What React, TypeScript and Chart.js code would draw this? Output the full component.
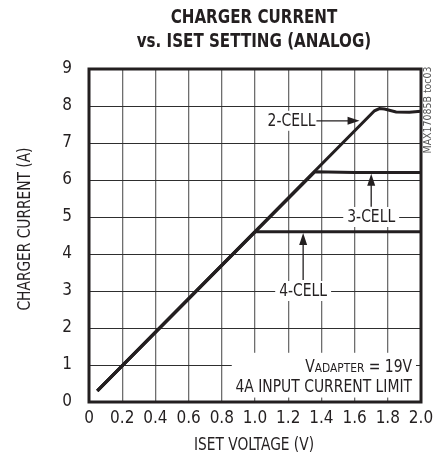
import React, { useEffect, useRef } from 'react';
import { Chart, registerables } from 'chart.js';

Chart.register(...registerables);

const FONT = "'Liberation Sans Narrow', 'DejaVu Sans Condensed', 'Liberation Sans', sans-serif";
const TXT = '#231f20';

// Series (ISET voltage in V, charger current in A)
const cell4X = [0.05, 1.0, 1.5, 2.0];
const cell4Y = [0.3, 4.6, 4.6, 4.6];
const cell3X = [0.05, 1.36, 1.6, 2.0];
const cell3Y = [0.3, 6.22, 6.2, 6.2];
const cell2X = [0.05, 1.72, 1.75, 1.78, 1.85, 1.93, 2.0];
const cell2Y = [0.3, 7.87, 7.93, 7.92, 7.84, 7.83, 7.86];

const xTickValues = [0, 0.2, 0.4, 0.6, 0.8, 1.0, 1.2, 1.4, 1.6, 1.8, 2.0];
const yTickValues = [0, 1, 2, 3, 4, 5, 6, 7, 8, 9];

const titleLines = ['CHARGER CURRENT', 'vs. ISET SETTING (ANALOG)'];
const xTitle = 'ISET VOLTAGE (V)';
const yTitle = 'CHARGER CURRENT (A)';
const watermark = 'MAX17085B toc03';

function pts(xs: number[], ys: number[]) {
  return xs.map((x, i) => ({ x, y: ys[i] }));
}

// text drawn horizontally condensed (the reference uses a condensed face)
function condText(ctx: CanvasRenderingContext2D, text: string, x: number, y: number, font: string, sx: number, align: CanvasTextAlign, baseline: CanvasTextBaseline, rot = 0) {
  ctx.save();
  ctx.translate(x, y);
  if (rot) ctx.rotate(rot);
  ctx.scale(sx, 1);
  ctx.font = font;
  ctx.textAlign = align;
  ctx.textBaseline = baseline;
  ctx.fillText(text, 0, 0);
  ctx.restore();
}

function textW(ctx: CanvasRenderingContext2D, text: string, font: string, sx: number) {
  ctx.save();
  ctx.font = font;
  const w = ctx.measureText(text).width * sx;
  ctx.restore();
  return w;
}

const LBL = `17px ${FONT}`;
const SX = 0.91;

function drawLabel(ctx: CanvasRenderingContext2D, text: string, cx: number, cy: number, padX: number, padY: number) {
  const w = textW(ctx, text, LBL, SX);
  ctx.fillStyle = '#fff';
  ctx.fillRect(cx - w / 2 - padX, cy - 8 - padY, w + 2 * padX, 16 + 2 * padY);
  ctx.fillStyle = TXT;
  condText(ctx, text, cx, cy + 1, LBL, SX, 'center', 'middle');
}

function drawArrow(ctx: CanvasRenderingContext2D, x1: number, y1: number, x2: number, y2: number) {
  const ang = Math.atan2(y2 - y1, x2 - x1);
  const len = 12;
  const hw = 4;
  ctx.strokeStyle = TXT;
  ctx.lineWidth = 1.3;
  ctx.beginPath();
  ctx.moveTo(x1, y1);
  ctx.lineTo(x2 - Math.cos(ang) * len * 0.8, y2 - Math.sin(ang) * len * 0.8);
  ctx.stroke();
  ctx.fillStyle = TXT;
  ctx.beginPath();
  ctx.moveTo(x2, y2);
  ctx.lineTo(x2 - Math.cos(ang) * len - Math.sin(ang) * hw, y2 - Math.sin(ang) * len + Math.cos(ang) * hw);
  ctx.lineTo(x2 - Math.cos(ang) * len + Math.sin(ang) * hw, y2 - Math.sin(ang) * len - Math.cos(ang) * hw);
  ctx.closePath();
  ctx.fill();
}

const decor = {
  id: 'decor',
  afterDatasetsDraw(chart: any) {
    const { ctx, chartArea: a, scales } = chart;
    const x = scales.x;
    const y = scales.y;
    ctx.save();

    // 2-CELL
    const l2x = x.getPixelForValue(1.22);
    const l2y = y.getPixelForValue(7.6);
    drawLabel(ctx, '2-CELL', l2x, l2y, 2, 2);
    drawArrow(ctx, x.getPixelForValue(1.37), l2y, x.getPixelForValue(1.63), l2y);

    // 3-CELL
    const l3x = x.getPixelForValue(1.7);
    drawLabel(ctx, '3-CELL', l3x, y.getPixelForValue(5.0), 4, 2);
    drawArrow(ctx, l3x, y.getPixelForValue(5.28), l3x, y.getPixelForValue(6.17));

    // 4-CELL
    const l4x = x.getPixelForValue(1.29);
    drawLabel(ctx, '4-CELL', l4x, y.getPixelForValue(3.0), 4, 2);
    drawArrow(ctx, l4x, y.getPixelForValue(3.3), l4x, y.getPixelForValue(4.57));

    // condition box
    ctx.fillStyle = '#fff';
    const bx = x.getPixelForValue(0.86);
    ctx.fillRect(bx, y.getPixelForValue(1.33), a.right - 5 - bx, y.getPixelForValue(0.12) - y.getPixelForValue(1.33));
    const rx = x.getPixelForValue(1.946);
    ctx.fillStyle = TXT;
    const b1 = y.getPixelForValue(0.81);
    const tail = ' = 19V';
    const SUB = `13px ${FONT}`;
    condText(ctx, tail, rx, b1, LBL, SX, 'right', 'alphabetic');
    const wTail = textW(ctx, tail, LBL, SX);
    condText(ctx, 'ADAPTER', rx - wTail, b1, SUB, SX, 'right', 'alphabetic');
    const wSub = textW(ctx, 'ADAPTER', SUB, SX);
    condText(ctx, 'V', rx - wTail - wSub, b1, LBL, SX, 'right', 'alphabetic');
    condText(ctx, '4A INPUT CURRENT LIMIT', rx, y.getPixelForValue(0.27), LBL, SX, 'right', 'alphabetic');

    // frame
    ctx.strokeStyle = TXT;
    ctx.lineWidth = 3;
    ctx.strokeRect(a.left, a.top, a.right - a.left, a.bottom - a.top);
    ctx.restore();
  },
  afterDraw(chart: any) {
    const { ctx, chartArea: a } = chart;
    ctx.save();
    ctx.fillStyle = TXT;
    const cx = (a.left + a.right) / 2 - 1;
    const TF = `bold 20px ${FONT}`;
    condText(ctx, titleLines[0], cx, 23, TF, 0.84, 'center', 'alphabetic');
    condText(ctx, titleLines[1], cx, 47, TF, 0.84, 'center', 'alphabetic');

    // axis titles
    condText(ctx, xTitle, cx, 446, LBL, 0.9, 'center', 'middle');
    condText(ctx, yTitle, 26, 229, LBL, 0.9, 'center', 'middle', -Math.PI / 2);

    ctx.fillStyle = '#555';
    condText(ctx, watermark, a.right + 7, a.top + 41, `11px ${FONT}`, 0.95, 'center', 'middle', -Math.PI / 2);
    ctx.restore();
  },
};

export default function App() {
  const ref = useRef<HTMLCanvasElement | null>(null);
  useEffect(() => {
    if (!ref.current) return;
    const lineStyle = {
      borderColor: TXT,
      borderWidth: 3,
      pointRadius: 0,
      tension: 0,
      fill: false,
    };
    const chart = new Chart(ref.current, {
      type: 'line',
      data: {
        datasets: [
          { label: '4-CELL', data: pts(cell4X, cell4Y), ...lineStyle },
          { label: '3-CELL', data: pts(cell3X, cell3Y), ...lineStyle },
          { label: '2-CELL', data: pts(cell2X, cell2Y), ...lineStyle },
        ],
      },
      options: {
        animation: false,
        responsive: true,
        maintainAspectRatio: false,
        layout: { padding: { top: 69, right: 19, left: 0, bottom: 0 } },
        plugins: { legend: { display: false }, tooltip: { enabled: false }, title: { display: false } },
        scales: {
          x: {
            type: 'linear',
            min: 0,
            max: 2,
            afterFit: (s: any) => { s.height = 60; },
            afterBuildTicks: (s: any) => { s.ticks = xTickValues.map((v) => ({ value: v })); },
            ticks: {
              padding: 6,
              color: TXT,
              font: { family: FONT, size: 17 },
              callback: (v: any) => (Number(v) === 0 ? '0' : Number(v).toFixed(1)),
            },
            grid: { color: '#6e6e6e', lineWidth: 1.3, drawTicks: false },
            border: { display: false },
          },
          y: {
            type: 'linear',
            min: 0,
            max: 9,
            afterFit: (s: any) => { s.width = 89; },
            afterBuildTicks: (s: any) => { s.ticks = yTickValues.map((v) => ({ value: v })); },
            ticks: {
              padding: 17,
              color: TXT,
              font: { family: FONT, size: 17 },
              callback: (v: any) => String(v),
            },
            grid: { color: '#2e2e2e', lineWidth: 1, drawTicks: false },
            border: { display: false },
          },
        },
      },
      plugins: [decor],
    } as any);
    return () => chart.destroy();
  }, []);
  return (
    <div style={{ position: 'absolute', left: 0, top: 0, width: 440, height: 462 }}>
      <canvas ref={ref} />
    </div>
  );
}
